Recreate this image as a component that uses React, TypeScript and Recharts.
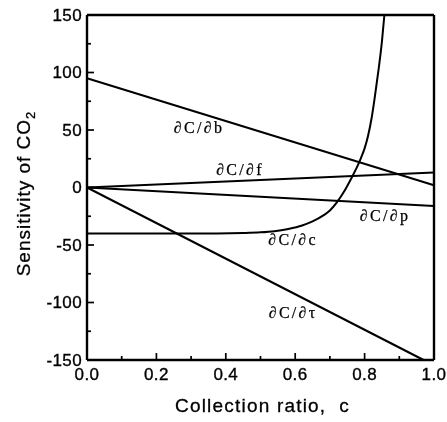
import React from 'react';
import { LineChart, Line, XAxis, YAxis, ReferenceDot, Label } from 'recharts';

// Collection ratio c on the horizontal axis, sensitivity of CO2 on the vertical.
const dCdb = [
  { c: 0, v: 95 },
  { c: 1, v: 2 },
];
const dCdf = [
  { c: 0, v: 0 },
  { c: 1, v: 13 },
];
const dCdp = [
  { c: 0, v: 0 },
  { c: 1, v: -16 },
];
const dCdtau = [
  { c: 0, v: 0 },
  { c: 0.97, v: -150 },
];
const dCdc = [
  { c: 0, v: -40 },
  { c: 0.3, v: -40 },
  { c: 0.45, v: -39.5 },
  { c: 0.5, v: -39 },
  { c: 0.54, v: -38 },
  { c: 0.58, v: -36 },
  { c: 0.62, v: -33 },
  { c: 0.65, v: -29.5 },
  { c: 0.68, v: -24.5 },
  { c: 0.7, v: -20 },
  { c: 0.72, v: -13 },
  { c: 0.74, v: -4 },
  { c: 0.76, v: 7 },
  { c: 0.78, v: 19 },
  { c: 0.79, v: 26 },
  { c: 0.8, v: 34 },
  { c: 0.81, v: 45 },
  { c: 0.82, v: 60 },
  { c: 0.83, v: 80 },
  { c: 0.84, v: 102 },
  { c: 0.85, v: 127 },
  { c: 0.857, v: 150 },
];

const curveLabels = [
  { text: '∂C/∂b', c: 0.323, v: 51.7 },
  { text: '∂C/∂f', c: 0.441, v: 15.2 },
  { text: '∂C/∂p', c: 0.859, v: -24.8 },
  { text: '∂C/∂c', c: 0.594, v: -45.6 },
  { text: '∂C/∂τ', c: 0.594, v: -109 },
];

const xTicks = [0, 0.1, 0.2, 0.3, 0.4, 0.5, 0.6, 0.7, 0.8, 0.9, 1.0];
const yTicks = [-150, -125, -100, -75, -50, -25, 0, 25, 50, 75, 100, 125, 150];

const SANS = 'Arial, "Liberation Sans", Helvetica, sans-serif';
const SERIF = '"Times New Roman", "Liberation Serif", "DejaVu Serif", serif';
const MAJOR = 7;
const MINOR = 4;
const TICK_W = 1.7;
const FRAME_W = 2.4;
const LINE_W = 2;

const isMajorX = (v: number) => Math.round(v * 10) % 2 === 0;
const isMajorY = (v: number) => Math.round(v) % 50 === 0;

const BottomTick = (props: any) => {
  const { x, y, payload } = props;
  const major = isMajorX(payload.value);
  return (
    <g>
      <line x1={x} y1={y} x2={x} y2={y - (major ? MAJOR : MINOR)} stroke="#000" strokeWidth={TICK_W} />
      {major && (
        <text
          x={x}
          y={y + 20}
          textAnchor="middle"
          fontFamily={SANS}
          fontSize={17}
          letterSpacing={0.4}
          fill="#000"
          stroke="#000"
          strokeWidth={0.35}
        >
          {payload.value.toFixed(1)}
        </text>
      )}
    </g>
  );
};

const TopTick = (props: any) => {
  const { x, y, payload } = props;
  const major = isMajorX(payload.value);
  return <line x1={x} y1={y} x2={x} y2={y + (major ? MAJOR : MINOR)} stroke="#000" strokeWidth={TICK_W} />;
};

const LeftTick = (props: any) => {
  const { x, y, payload } = props;
  const major = isMajorY(payload.value);
  return (
    <g>
      <line x1={x} y1={y} x2={x + (major ? MAJOR : MINOR)} y2={y} stroke="#000" strokeWidth={TICK_W} />
      {major && (
        <text
          x={x - 5}
          y={y + 5.5}
          textAnchor="end"
          fontFamily={SANS}
          fontSize={17}
          letterSpacing={0.4}
          fill="#000"
          stroke="#000"
          strokeWidth={0.35}
        >
          {payload.value}
        </text>
      )}
    </g>
  );
};

const RightTick = (props: any) => {
  const { x, y, payload } = props;
  const major = isMajorY(payload.value);
  return <line x1={x} y1={y} x2={x - (major ? MAJOR : MINOR)} y2={y} stroke="#000" strokeWidth={TICK_W} />;
};

const YTitle = (props: any) => {
  const vb = props.viewBox || { x: 0, y: 0, width: 0, height: 0 };
  const cx = vb.x + 30;
  const cy = vb.y + vb.height / 2 + 6;
  return (
    <text
      x={cx}
      y={cy}
      transform={`rotate(-90, ${cx}, ${cy})`}
      textAnchor="middle"
      fontFamily={SANS}
      fontSize={19}
      letterSpacing={1}
      fill="#000"
      stroke="#000"
      strokeWidth={0.3}
    >
      Sensitivity of CO<tspan dy={5} fontSize={13}>2</tspan>
    </text>
  );
};

const XTitle = (props: any) => {
  const vb = props.viewBox || { x: 0, y: 0, width: 0, height: 0 };
  return (
    <text
      x={vb.x + vb.width / 2 + 2}
      y={vb.y + 52}
      textAnchor="middle"
      fontFamily={SANS}
      fontSize={19}
      letterSpacing={1.2}
      fill="#000"
      stroke="#000"
      strokeWidth={0.3}
      xmlSpace="preserve"
    >
      {'Collection ratio,  c'}
    </text>
  );
};

const curveLabel = (text: string) => (props: any) => {
  const vb = props.viewBox || { x: 0, y: 0, width: 0, height: 0 };
  const cx = vb.x + (vb.width || 0) / 2;
  const cy = vb.y + (vb.height || 0) / 2;
  return (
    <text
      x={cx}
      y={cy + 5}
      textAnchor="middle"
      fontFamily={SERIF}
      fontSize={16}
      letterSpacing={2.3}
      fill="#000"
      stroke="#000"
      strokeWidth={0.25}
    >
      {text}
    </text>
  );
};

export default function App() {
  return (
    <div style={{ position: 'fixed', left: 0, top: 0, width: 447, height: 422 }}>
      <LineChart
        width={447}
        height={422}
        margin={{ top: 13, right: 0, bottom: 0, left: 0 }}
        style={{ overflow: 'visible' }}
      >
        <XAxis
          type="number"
          dataKey="c"
          domain={[0, 1]}
          ticks={xTicks}
          interval={0}
          height={62}
          tickSize={0}
          tickMargin={0}
          tickLine={false}
          tick={<BottomTick />}
          axisLine={{ stroke: '#000', strokeWidth: FRAME_W }}
        >
          <Label content={<XTitle />} />
        </XAxis>
        <XAxis
          xAxisId="top"
          orientation="top"
          type="number"
          dataKey="c"
          domain={[0, 1]}
          ticks={xTicks}
          interval={0}
          height={2}
          tickSize={0}
          tickMargin={0}
          tickLine={false}
          tick={<TopTick />}
          axisLine={{ stroke: '#000', strokeWidth: FRAME_W }}
        />
        <YAxis
          type="number"
          domain={[-150, 150]}
          ticks={yTicks}
          interval={0}
          width={87}
          tickSize={0}
          tickMargin={0}
          tickLine={false}
          tick={<LeftTick />}
          axisLine={{ stroke: '#000', strokeWidth: FRAME_W }}
        >
          <Label content={<YTitle />} />
        </YAxis>
        <YAxis
          yAxisId="right"
          orientation="right"
          type="number"
          domain={[-150, 150]}
          ticks={yTicks}
          interval={0}
          width={13}
          tickSize={0}
          tickMargin={0}
          tickLine={false}
          tick={<RightTick />}
          axisLine={{ stroke: '#000', strokeWidth: FRAME_W }}
        />
        <Line data={dCdb} dataKey="v" type="linear" stroke="#000" strokeWidth={LINE_W} dot={false} isAnimationActive={false} />
        <Line data={dCdf} dataKey="v" type="linear" stroke="#000" strokeWidth={LINE_W} dot={false} isAnimationActive={false} />
        <Line data={dCdp} dataKey="v" type="linear" stroke="#000" strokeWidth={LINE_W} dot={false} isAnimationActive={false} />
        <Line data={dCdtau} dataKey="v" type="linear" stroke="#000" strokeWidth={LINE_W} dot={false} isAnimationActive={false} />
        <Line data={dCdc} dataKey="v" type="monotone" stroke="#000" strokeWidth={LINE_W} dot={false} isAnimationActive={false} />
        {curveLabels.map((l) => (
          <ReferenceDot
            key={l.text}
            x={l.c}
            y={l.v}
            r={0}
            fill="none"
            stroke="none"
            label={{ content: curveLabel(l.text) }}
          />
        ))}
      </LineChart>
    </div>
  );
}
